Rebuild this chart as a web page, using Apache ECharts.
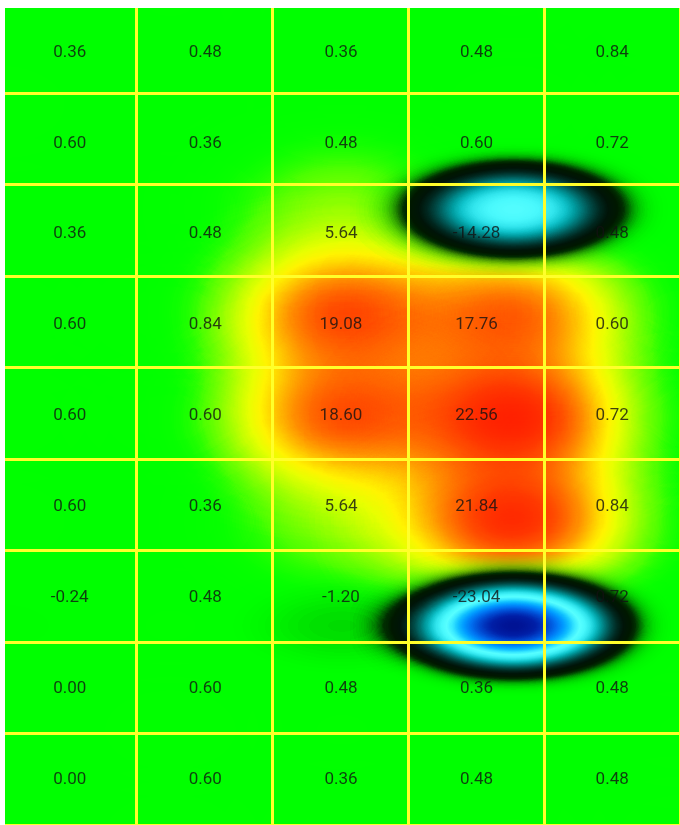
<!DOCTYPE html>
<html>
<head>
<meta charset="utf-8">
<script src="https://cdn.jsdelivr.net/npm/echarts@6/dist/echarts.min.js"></script>
<style>
html, body { margin: 0; padding: 0; background: #fff; }
#frame { position: absolute; left: 5px; top: 8px; width: 675px; height: 817px; overflow: hidden; background: #00ff00; }
/* the blobs are drawn round, then squeezed to the cell ratio */
#hot { position: absolute; left: -6px; top: -7px; width: 686px; height: 1372px; transform: scale(1, 0.60714); transform-origin: 0 0; }
#cold { position: absolute; left: -6px; top: -7px; width: 686px; height: 1916px; transform: scale(1, 0.43476); transform-origin: 0 0; }
#cells { position: absolute; left: -5px; top: -8px; width: 680px; height: 825px; }
</style>
</head>
<body>
<div id="frame">
  <div id="hot"></div>
  <div id="cold"></div>
  <div id="cells"></div>
</div>
<script>
// grid values, top row first
const row1 = [0.36, 0.48, 0.36, 0.48, 0.84]
const row2 = [0.60, 0.36, 0.48, 0.60, 0.72]
const row3 = [0.36, 0.48, 5.64, -14.28, 0.48]
const row4 = [0.60, 0.84, 19.08, 17.76, 0.60]
const row5 = [0.60, 0.60, 18.60, 22.56, 0.72]
const row6 = [0.60, 0.36, 5.64, 21.84, 0.84]
const row7 = [-0.24, 0.48, -1.20, -23.04, 0.72]
const row8 = [0.00, 0.60, 0.48, 0.36, 0.48]
const row9 = [0.00, 0.60, 0.36, 0.48, 0.48]
const rows = [row1, row2, row3, row4, row5, row6, row7, row8, row9]
const colIds = ['1', '2', '3', '4', '5']
const rowIds = ['1', '2', '3', '4', '5', '6', '7', '8', '9']

const nCols = colIds.length
const nRows = rowIds.length

// warm and cold parts of the field go to separate layers
const hotPts = []
const coldPts = []
const cellData = []
rows.forEach((row, j) => {
  row.forEach((v, i) => {
    const lat = nRows - 1 - j
    if (v >= 0) hotPts.push([i, lat, v])
    else coldPts.push([i, lat, -v])
    cellData.push([i, j, v])
  })
})

const hotColors = ['#00ff00', '#10ff00', '#38ff00', '#68ff00', '#98ff00', '#c4ff00',
  '#e8ff00', '#fff400', '#ffd400', '#ffb000', '#ff8c00', '#ff6c00', '#ff5000',
  '#ff3800', '#ff2800', '#ff1c00', '#ff1400', '#ff1000', '#ff0c00', '#ff0800', '#ff0800']
const coldColors = ['#00ff00', '#00a000', '#004000', '#001800', '#001408', '#002820',
  '#004844', '#007070', '#009ca0', '#10c4cc', '#30e4ec', '#48f8fc', '#58ffff',
  '#38e8ff', '#10c0ff', '#0098ff', '#0070f0', '#0048d0', '#0020a8', '#001090', '#000088']

echarts.registerMap('field', {
  type: 'FeatureCollection',
  features: [{
    type: 'Feature',
    properties: { name: 'field' },
    geometry: {
      type: 'Polygon',
      coordinates: [[[0, 0], [nCols - 1, 0], [nCols - 1, nRows - 1], [0, nRows - 1], [0, 0]]]
    }
  }]
})

function drawLayer(id, pts, colors, pointSize, blurSize, base) {
  const chart = echarts.init(document.getElementById(id))
  chart.setOption({
    animation: false,
    backgroundColor: base,
    geo: {
      map: 'field',
      roam: false,
      silent: true,
      left: 0,
      right: 0,
      top: 0,
      bottom: 0,
      label: { show: false },
      itemStyle: { areaColor: base, borderWidth: 0, borderColor: 'transparent' },
      emphasis: { disabled: true }
    },
    visualMap: {
      type: 'continuous',
      show: false,
      min: 0,
      max: Math.max(...pts.map(d => d[2])),
      inRange: { color: colors }
    },
    series: [{
      type: 'heatmap',
      coordinateSystem: 'geo',
      pointSize: pointSize,
      blurSize: blurSize,
      minOpacity: 0,
      maxOpacity: 8,
      data: pts
    }]
  })
}

drawLayer('hot', hotPts, hotColors, 90, 120, '#00ff00')
drawLayer('cold', coldPts, coldColors, 86, 78, 'transparent')

const cells = echarts.init(document.getElementById('cells'))
const hidden = { show: false }
const gridLine = { show: true, interval: 0, lineStyle: { color: '#ffff2a', width: 3 } }
cells.setOption({
  animation: false,
  grid: [
    { left: -1, right: -5.5, top: 1.4, bottom: -9.6 },
    { left: 1.9, right: -20.9, top: 7, bottom: 0 }
  ],
  xAxis: [
    { gridIndex: 0, type: 'category', data: colIds, axisLine: hidden, axisTick: hidden, axisLabel: hidden, splitLine: gridLine },
    { gridIndex: 1, type: 'category', data: colIds, show: false }
  ],
  yAxis: [
    { gridIndex: 0, type: 'category', inverse: true, data: rowIds, axisLine: hidden, axisTick: hidden, axisLabel: hidden, splitLine: gridLine },
    { gridIndex: 1, type: 'category', inverse: true, data: rowIds, show: false }
  ],
  series: [{
    type: 'scatter',
    xAxisIndex: 1,
    yAxisIndex: 1,
    silent: true,
    symbolSize: 1,
    itemStyle: { color: 'transparent' },
    label: {
      show: true,
      position: 'inside',
      formatter: p => p.value[2].toFixed(2),
      color: '#121212',
      fontSize: 17,
      fontFamily: 'Roboto'
    },
    data: cellData
  }]
})
</script>
</body>
</html>
